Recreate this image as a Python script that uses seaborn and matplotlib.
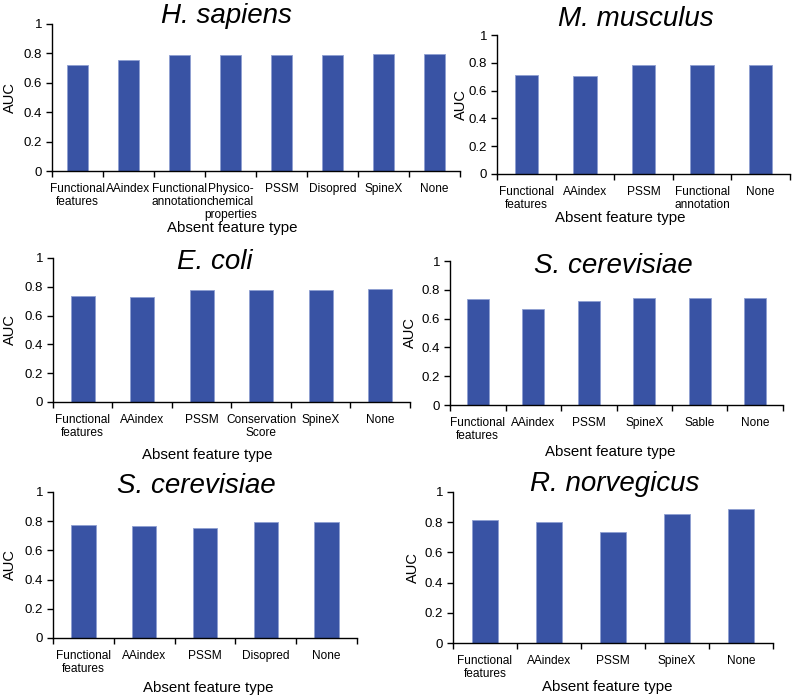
import matplotlib
matplotlib.use("Agg")
import matplotlib.pyplot as plt
import seaborn as sns
import pandas as pd
from matplotlib.ticker import FixedLocator

# AUC when one feature type is left out, per organism
hs_labels = ["Functional\nfeatures", "AAindex", "Functional\nannotation",
             "Physico-\nchemical\nproperties", "PSSM", "Disopred", "SpineX", "None"]
hs_auc = [0.718, 0.755, 0.792, 0.792, 0.792, 0.792, 0.793, 0.795]

mm_labels = ["Functional\nfeatures", "AAindex", "PSSM", "Functional\nannotation", "None"]
mm_auc = [0.712, 0.703, 0.786, 0.786, 0.786]

ec_labels = ["Functional\nfeatures", "AAindex", "PSSM", "Conservation\nScore", "SpineX", "None"]
ec_auc = [0.735, 0.726, 0.781, 0.781, 0.781, 0.786]

sc1_labels = ["Functional\nfeatures", "AAindex", "PSSM", "SpineX", "Sable", "None"]
sc1_auc = [0.735, 0.666, 0.721, 0.740, 0.740, 0.744]

sc2_labels = ["Functional\nfeatures", "AAindex", "PSSM", "Disopred", "None"]
sc2_auc = [0.776, 0.764, 0.755, 0.794, 0.796]

rn_labels = ["Functional\nfeatures", "AAindex", "PSSM", "SpineX", "None"]
rn_auc = [0.814, 0.801, 0.736, 0.854, 0.885]

titles = ["H. sapiens", "M. musculus", "E. coli", "S. cerevisiae", "S. cerevisiae", "R. norvegicus"]

sns.set_style("white")
plt.rcParams["font.family"] = ["Liberation Sans", "DejaVu Sans"]
plt.rcParams["text.color"] = "black"
plt.rcParams["xtick.color"] = "black"
plt.rcParams["ytick.color"] = "black"

W, H = 794, 699
fig = plt.figure(figsize=(W / 100, H / 100), dpi=100)

# panel boxes in pixels: left, right, top (y=1), bottom (y=0)
boxes = [(52, 460, 24, 171), (497, 790, 35, 174),
         (53, 410, 258, 402), (450, 783, 261, 405),
         (53, 357, 492, 638), (453, 773, 492, 643)]
title_pos = [(226, 16), (636, 19), (215, 262), (613, 266), (196, 486), (615, 484)]
xlab_pos = [(232, 228), (620, 218), (207, 455), (610, 452), (208, 688), (607, 687)]
ylab_x = [10, 461, 10, 410, 10, 413]

panels = [(hs_labels, hs_auc), (mm_labels, mm_auc), (ec_labels, ec_auc),
          (sc1_labels, sc1_auc), (sc2_labels, sc2_auc), (rn_labels, rn_auc)]

bar_color = "#3953A4"

for i, (labels, auc) in enumerate(panels):
    l, r, t, b = boxes[i]
    ax = fig.add_axes([l / W, 1 - b / H, (r - l) / W, (b - t) / H])
    df = pd.DataFrame({"feature": labels, "AUC": auc})
    sns.barplot(data=df, x="feature", y="AUC", color=bar_color, width=0.4,
                edgecolor="#8e9fd2", linewidth=0.6, saturation=1, ax=ax)
    n = len(labels)
    ax.set_xlim(-0.5, n - 0.5)
    ax.set_ylim(0, 1)
    ax.set_yticks([0, 0.2, 0.4, 0.6, 0.8, 1])
    ax.set_yticklabels(["0", "0.2", "0.4", "0.6", "0.8", "1"])
    ax.xaxis.set_minor_locator(FixedLocator([k - 0.5 for k in range(n + 1)]))
    ax.tick_params(axis="x", which="major", bottom=False, pad=5, labelsize=8.6)
    ax.tick_params(axis="x", which="minor", bottom=True, length=4, width=1, direction="out", color="black")
    ax.tick_params(axis="y", left=True, length=4, width=1, direction="out", color="black",
                   labelsize=9.5, pad=3)
    ax.set_xticklabels(labels, linespacing=1.1)
    sns.despine(ax=ax)
    for s in ["left", "bottom"]:
        ax.spines[s].set_color("black")
        ax.spines[s].set_linewidth(1)
    ax.set_xlabel("")
    ax.set_ylabel("")
    tx, ty = title_pos[i]
    fig.text(tx / W, 1 - ty / H, titles[i], fontsize=20, style="italic", ha="center", va="center")
    xx, xy = xlab_pos[i]
    fig.text(xx / W, 1 - xy / H, "Absent feature type", fontsize=10.8, ha="center", va="center")
    fig.text(ylab_x[i] / W, 1 - ((t + b) / 2) / H, "AUC", fontsize=10.5, rotation=90,
             ha="center", va="center")

fig.savefig("out.png", dpi=100)
